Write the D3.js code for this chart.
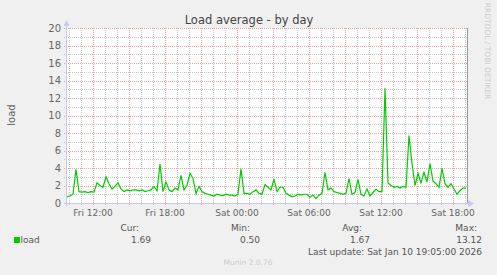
<!DOCTYPE html>
<html>
<head>
<meta charset="utf-8">
<title>Load average - by day</title>
<script src="https://cdn.jsdelivr.net/npm/d3@7"></script>
<style>
  body { margin: 0; background: #f0f0f0; }
  svg { display: block; font-family: "DejaVu Sans", sans-serif; }
</style>
</head>
<body>
<svg id="chart" width="497" height="275"></svg>
<script>
// 15 minute samples starting Fri 09:50
var startTime = Date.UTC(2026, 0, 9, 9, 50);
var stepMinutes = 15;
var loadValues = [
  0.7, 0.8, 1.0, 3.85, 1.3, 1.25, 1.3, 1.2, 1.3, 1.25,
  2.3, 2.0, 1.8, 3.0, 2.2, 1.6, 1.9, 2.3, 1.6, 1.3,
  1.5, 1.4, 1.5, 1.5, 1.4, 1.5, 1.3, 1.4, 1.5, 1.9,
  1.4, 4.46, 1.3, 2.4, 1.5, 1.3, 1.7, 1.5, 3.16, 1.5,
  2.0, 3.4, 2.8, 1.1, 1.9, 1.3, 1.1, 1.0, 0.9, 0.8,
  1.0, 0.9, 0.85, 1.0, 0.9, 0.9, 0.8, 1.0, 3.9, 1.1,
  1.1, 1.0, 1.3, 1.5, 1.1, 1.0, 2.1, 1.8, 1.5, 2.74,
  1.3, 1.8, 1.8, 1.1, 0.9, 0.7, 0.8, 1.0, 0.9, 1.0,
  1.0, 0.65, 0.9, 0.5, 0.9, 1.1, 3.5, 1.5, 1.7, 1.3,
  1.2, 1.1, 1.0, 1.1, 2.8, 1.0, 1.2, 2.7, 1.0, 0.8,
  1.6, 0.8, 1.2, 1.6, 1.3, 1.3, 13.12, 2.3, 2.0, 1.8,
  1.9, 1.7, 1.9, 1.8, 7.7, 4.5, 2.0, 3.4, 2.3, 3.5,
  2.4, 4.5, 2.5, 2.2, 1.8, 3.96, 2.2, 1.8, 2.2, 1.6,
  1.0, 1.4, 1.7, 1.69
];
var statLabels = ["Cur:", "Min:", "Avg:", "Max:"];
var statValues = ["1.69", "0.50", "1.67", "13.12"];
var yTicks = [0, 2, 4, 6, 8, 10, 12, 14, 16, 18, 20];
var lastUpdate = "Last update: Sat Jan 10 19:05:00 2026";

var svg = d3.select("#chart");
var pLeft = 67, pRight = 467, pTop = 28, pBottom = 203;

var x = d3.scaleUtc()
  .domain([new Date(startTime), new Date(Date.UTC(2026, 0, 10, 19, 10))])
  .range([pLeft, pRight]);
var y = d3.scaleLinear().domain([0, 20]).range([pBottom, pTop]);

var data = loadValues.map(function(v, i) {
  return { t: new Date(startTime + i * stepMinutes * 60000), v: v };
});

// plot canvas
svg.append("rect").attr("x", pLeft).attr("y", pTop)
  .attr("width", pRight - pLeft).attr("height", pBottom - pTop).attr("fill", "#fff");

var minorColor = "#c8c8c8", majorColor = "#f0a0a0";

// horizontal grid
var grid = svg.append("g").attr("shape-rendering", "crispEdges");
d3.range(1, 21).forEach(function(v) {
  var major = v % 2 == 0;
  grid.append("line")
    .attr("x1", pLeft - 3).attr("x2", pRight)
    .attr("y1", Math.round(y(v)) + 0.5).attr("y2", Math.round(y(v)) + 0.5)
    .attr("stroke", major ? majorColor : minorColor)
    .attr("stroke-dasharray", "1,1");
});

// vertical grid, hourly minor, 3h major
x.ticks(d3.utcHour.every(1)).forEach(function(t) {
  var px = Math.round(x(t)) + 0.5;
  var major = t.getUTCHours() % 3 == 0;
  grid.append("line")
    .attr("x1", px).attr("x2", px)
    .attr("y1", pTop).attr("y2", pBottom + 3)
    .attr("stroke", major ? majorColor : minorColor)
    .attr("stroke-dasharray", "1,1");
});

// axes
svg.append("line").attr("x1", pLeft - 0.5).attr("x2", pLeft - 0.5)
  .attr("y1", pBottom + 3).attr("y2", 22).attr("stroke", "#c8c8f0");
svg.append("line").attr("x1", pLeft - 3).attr("x2", 471)
  .attr("y1", pBottom + 0.5).attr("y2", pBottom + 0.5).attr("stroke", "#c8c8f0");
svg.append("line").attr("x1", pRight + 0.5).attr("x2", pRight + 0.5)
  .attr("y1", pTop).attr("y2", pBottom).attr("stroke", "#999");
svg.append("path").attr("d", "M63.5,26 L66.5,20 L69.5,26 Z").attr("fill", "#c8c8f0");
svg.append("path").attr("d", "M468,200 L474,203.5 L468,207 Z").attr("fill", "#c8c8f0");

// y labels
svg.append("g").selectAll("text").data(yTicks).join("text")
  .attr("x", 61).attr("y", function(d) { return y(d) + 3.5; })
  .attr("text-anchor", "end").attr("font-size", 10).attr("fill", "#666")
  .text(function(d) { return d; });

// x labels
var fmt = d3.utcFormat("%a %H:%M");
svg.append("g").selectAll("text").data(x.ticks(d3.utcHour.every(6))).join("text")
  .attr("x", function(d) { return x(d); }).attr("y", 216)
  .attr("text-anchor", "middle").attr("font-size", 9).attr("fill", "#666")
  .text(function(d) { return fmt(d); });

// series
var line = d3.line().x(function(d) { return x(d.t); }).y(function(d) { return y(d.v); });
svg.append("path").datum(data).attr("d", line)
  .attr("fill", "none").attr("stroke", "#00cc00").attr("stroke-width", 1.2);

// title and side texts
svg.append("text").attr("x", 249).attr("y", 24).attr("text-anchor", "middle")
  .attr("font-size", 11.5).attr("fill", "#444").text("Load average - by day");
svg.append("text").attr("transform", "translate(15,115) rotate(-90)")
  .attr("text-anchor", "middle").attr("font-size", 10).attr("fill", "#666").text("load");
svg.append("text").attr("transform", "translate(485,51) rotate(90)")
  .attr("text-anchor", "middle").attr("font-size", 7.5).attr("fill", "#ccc")
  .text("RRDTOOL / TOBI OETIKER");

// legend
svg.append("rect").attr("x", 14).attr("y", 237).attr("width", 6).attr("height", 6).attr("fill", "#00cc00");
svg.append("text").attr("x", 20.5).attr("y", 243).attr("font-size", 9).attr("fill", "#555").text("load");
var labelEnds = [139, 250, 362, 477];
var valueEnds = [151, 260, 370, 482];
svg.append("g").selectAll("text").data(statLabels).join("text")
  .attr("x", function(d, i) { return labelEnds[i]; }).attr("y", 231)
  .attr("text-anchor", "end").attr("font-size", 9).attr("fill", "#555")
  .text(function(d) { return d; });
svg.append("g").selectAll("text").data(statValues).join("text")
  .attr("x", function(d, i) { return valueEnds[i]; }).attr("y", 243)
  .attr("text-anchor", "end").attr("font-size", 9).attr("fill", "#555")
  .text(function(d) { return d; });
svg.append("text").attr("x", 482).attr("y", 255).attr("text-anchor", "end")
  .attr("font-size", 9).attr("fill", "#555").text(lastUpdate);
svg.append("text").attr("x", 248).attr("y", 265).attr("text-anchor", "middle")
  .attr("font-size", 7.5).attr("fill", "#ccc").text("Munin 2.0.76");
</script>
</body>
</html>
